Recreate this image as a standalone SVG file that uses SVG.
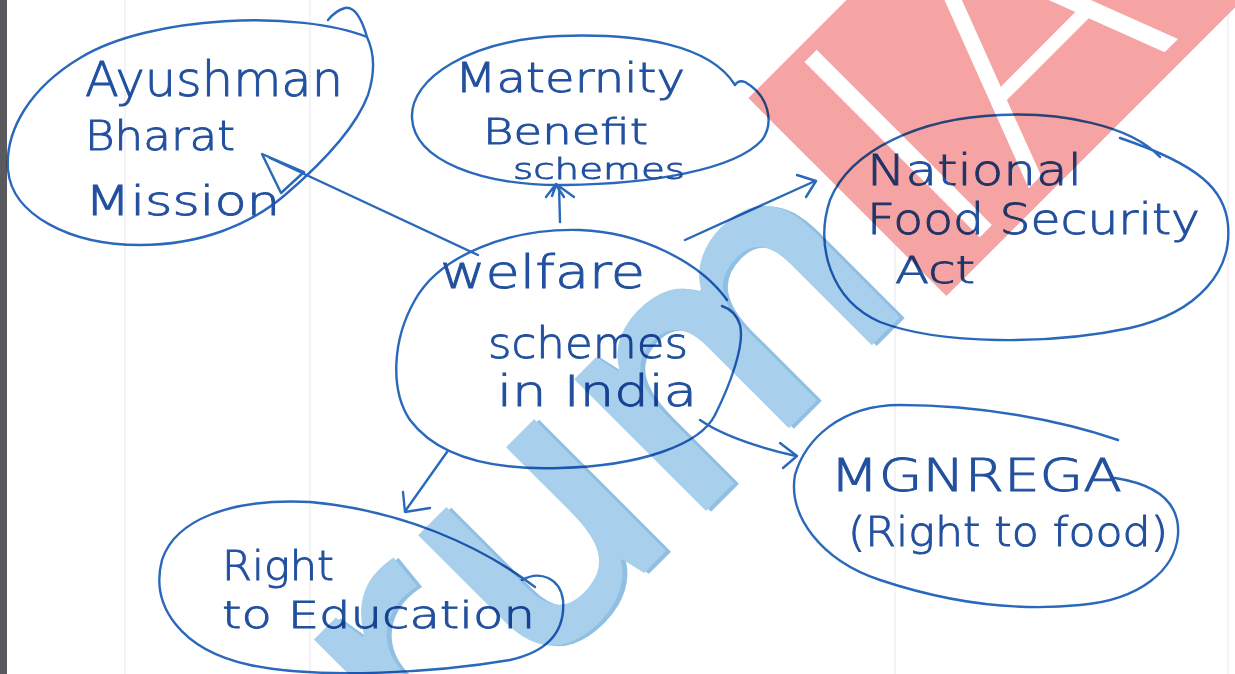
<svg xmlns="http://www.w3.org/2000/svg" width="1235" height="674" viewBox="0 0 1235 674">
<style>
.ink{fill:none;stroke:#2a68bb;stroke-width:2.4;stroke-linecap:round;stroke-linejoin:round}
.t{font-family:"DejaVu Sans","Liberation Sans",sans-serif;font-weight:200;fill:#22509f;stroke:#22509f;stroke-width:0.9}
.paper{stroke:#ececf2;stroke-width:1.2}
.wm{font-family:"Open Sans","DejaVu Sans",sans-serif;font-weight:600;font-size:345px}
</style>
<rect width="1235" height="674" fill="#ffffff"/>
<g id="paper">
<line class="paper" x1="125" y1="0" x2="125" y2="674"/>
<line class="paper" x1="310" y1="0" x2="310" y2="674"/>
<line class="paper" x1="895" y1="0" x2="895" y2="674"/>
<line class="paper" x1="1228" y1="0" x2="1228" y2="674"/>
<rect x="0" y="0" width="7" height="674" fill="#5a5a5e"/>
</g>
<g id="watermark" transform="translate(986,231) rotate(-45)">
<text class="wm" x="-92" y="4" text-anchor="end" fill="#8fbfe2">forum</text>
<text class="wm" x="-95" y="0" text-anchor="end" fill="#a8d0ec">forum</text>
<rect x="-74" y="-262" width="700" height="280" fill="#f5a3a3"/>
<text x="-50" y="0" font-family="DejaVu Sans,sans-serif" font-weight="200" font-size="340" fill="#ffffff">IAS</text>
</g>
<g id="diagram" style="mix-blend-mode:multiply">
<g id="connectors">
<path class="ink" d="M478,255 L270,158"/>
<path class="ink" d="M262,154 L304,172 L281,193 Z"/>
<path class="ink" d="M560,222 L559,186"/>
<path class="ink" stroke-width="3" d="M546,197 L556,184 L574,197 M552,196 L556,185 L564,197"/>
<path class="ink" d="M685,240 L815,181"/>
<path class="ink" d="M797,175 L816,181 L806,197"/>
<path class="ink" d="M700,420 C722,435 752,446 796,456"/>
<path class="ink" d="M780,443 L797,456 L783,468"/>
<path class="ink" d="M447,452 L406,510"/>
<path class="ink" d="M403,492 L405,512 L430,508"/>
</g>
<g id="ayushman">
<path class="ink" d="M367,37 C300,10 150,15 80,58 C30,88 5,130 8,170 C12,215 70,245 140,245 C200,245 250,225 285,195 C320,165 355,130 368,95 C376,70 374,52 367,37 C362,20 355,6 345,8 C338,10 332,15 328,20"/>
<text class="t" x="85" y="96" font-size="48" textLength="258" lengthAdjust="spacingAndGlyphs">Ayushman</text>
<text class="t" x="85" y="150" font-size="40" textLength="150" lengthAdjust="spacingAndGlyphs">Bharat</text>
<text class="t" x="85" y="215" font-size="40" textLength="195" lengthAdjust="spacingAndGlyphs">Mission</text>
</g>
<g id="maternity">
<path class="ink" d="M735,85 C710,45 640,33 560,36 C470,40 410,78 412,118 C414,160 480,186 565,185 C650,184 735,170 762,140 C775,122 768,95 745,82 C740,80 737,82 735,85"/>
<text class="t" x="455" y="92" font-size="40" textLength="230" lengthAdjust="spacingAndGlyphs">Maternity</text>
<text class="t" x="483" y="144" font-size="36" textLength="165" lengthAdjust="spacingAndGlyphs">Benefit</text>
<text class="t" x="513" y="179" font-size="29" textLength="172" lengthAdjust="spacingAndGlyphs">schemes</text>
</g>
<g id="welfare">
<path class="ink" d="M727,300 C700,262 640,232 580,230 C510,228 440,255 415,300 C392,340 390,390 410,420 C440,460 500,470 560,468 C640,466 700,445 715,415 C730,385 745,345 740,325 C736,312 728,308 722,306"/>
<text class="t" x="440" y="288" font-size="46" textLength="205" lengthAdjust="spacingAndGlyphs">welfare</text>
<text class="t" x="488" y="358" font-size="42" textLength="200" lengthAdjust="spacingAndGlyphs">schemes</text>
<text class="t" x="497" y="406" font-size="42" textLength="200" lengthAdjust="spacingAndGlyphs">in India</text>
</g>
<g id="nfsa">
<path class="ink" d="M1160,157 C1130,125 1060,112 1000,115 C920,118 850,150 830,200 C815,245 830,300 880,322 C940,345 1050,345 1130,328 C1200,312 1232,270 1228,225 C1225,190 1200,165 1120,138"/>
<text class="t" x="867" y="185" font-size="42" textLength="215" lengthAdjust="spacingAndGlyphs">National</text>
<text class="t" x="867" y="234" font-size="42" textLength="333" lengthAdjust="spacingAndGlyphs">Food Security</text>
<text class="t" x="895" y="283" font-size="38" textLength="80" lengthAdjust="spacingAndGlyphs">Act</text>
</g>
<g id="mgnrega">
<path class="ink" d="M1118,440 C1060,420 980,405 900,405 C840,405 805,440 795,475 C788,515 820,560 880,580 C940,600 1010,612 1080,605 C1140,600 1175,570 1178,535 C1180,505 1160,485 1115,478"/>
<text class="t" x="830" y="491" font-size="45" textLength="292" lengthAdjust="spacingAndGlyphs">MGNREGA</text>
<text class="t" x="848" y="546" font-size="40" textLength="320" lengthAdjust="spacingAndGlyphs">(Right to food)</text>
</g>
<g id="education">
<path class="ink" d="M535,587 C480,545 400,510 310,502 C230,498 175,520 162,560 C150,605 180,650 250,665 C320,680 440,672 510,660 C555,650 565,625 563,600 C560,578 540,570 522,580"/>
<text class="t" x="222" y="580" font-size="40" textLength="112" lengthAdjust="spacingAndGlyphs">Right</text>
<text class="t" x="222" y="628" font-size="38" textLength="313" lengthAdjust="spacingAndGlyphs">to Education</text>
</g>
</g>
</svg>
